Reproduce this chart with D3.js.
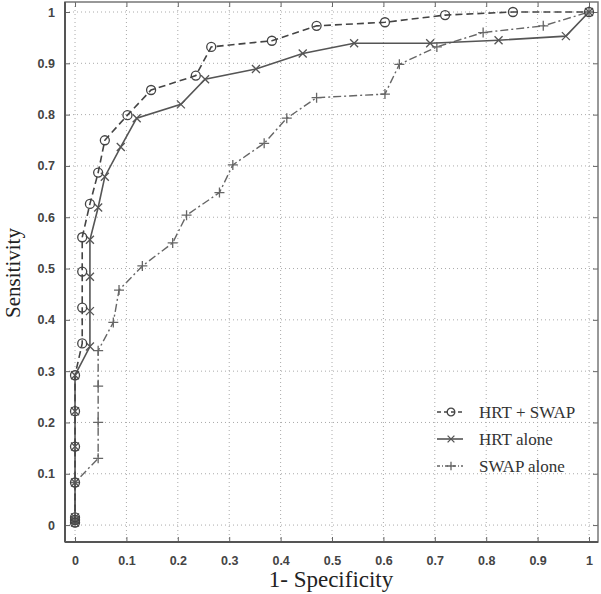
<!DOCTYPE html>
<html><head><meta charset="utf-8">
<script src="https://cdn.jsdelivr.net/npm/d3@7"></script>
<style>body{margin:0;background:#fff;} svg{display:block;}</style>
</head><body>
<svg id="chart" width="601" height="594"></svg>
<script>
const ticks = [0,0.1,0.2,0.3,0.4,0.5,0.6,0.7,0.8,0.9,1];
const tickLabels = ["0","0.1","0.2","0.3","0.4","0.5","0.6","0.7","0.8","0.9","1"];
const seriesNames = ["HRT + SWAP","HRT alone","SWAP alone"];
const hrtSwapX = [0,0,0,0,0,0,0,0.014,0.014,0.014,0.014,0.029,0.045,0.058,0.102,0.148,0.235,0.265,0.383,0.470,0.603,0.720,0.852,1];
const hrtSwapY = [0.005,0.010,0.015,0.083,0.153,0.222,0.292,0.354,0.424,0.494,0.561,0.626,0.687,0.750,0.799,0.848,0.876,0.932,0.944,0.973,0.980,0.994,1.0,1.0];
const hrtX = [0,0,0,0,0,0,0,0.029,0.029,0.029,0.029,0.045,0.058,0.089,0.120,0.206,0.253,0.352,0.443,0.543,0.691,0.824,0.955,1];
const hrtY = [0.005,0.010,0.015,0.083,0.153,0.222,0.292,0.348,0.417,0.484,0.556,0.619,0.679,0.737,0.793,0.820,0.869,0.889,0.919,0.939,0.939,0.945,0.953,1.0];
const swapX = [0,0,0.045,0.045,0.045,0.045,0.0745,0.0856,0.131,0.190,0.217,0.281,0.307,0.368,0.412,0.470,0.603,0.631,0.704,0.794,0.911,1];
const swapY = [0.005,0.083,0.130,0.200,0.271,0.340,0.395,0.458,0.505,0.550,0.604,0.648,0.702,0.744,0.793,0.833,0.840,0.898,0.932,0.960,0.973,1.0];

const svg = d3.select("#chart");
const L=65,R=598,T=2,B=542;
const x = d3.scaleLinear().domain([-0.0195,1.0175]).range([L,R]);
const y = d3.scaleLinear().domain([-0.033,1.0195]).range([B,T]);

// grid
const g = svg.append("g");
g.selectAll(".vg").data(ticks).enter().append("line")
  .attr("x1",d=>x(d)).attr("x2",d=>x(d)).attr("y1",T).attr("y2",B)
  .attr("stroke","#aaa").attr("stroke-width",1).attr("stroke-dasharray","1,3");
g.selectAll(".hg").data(ticks).enter().append("line")
  .attr("y1",d=>y(d)).attr("y2",d=>y(d)).attr("x1",L).attr("x2",R)
  .attr("stroke","#aaa").attr("stroke-width",1).attr("stroke-dasharray","1,3");

// axes
const fmt = (d,i)=>tickLabels[i];
const xAxis = d3.axisBottom(x).tickValues(ticks).tickFormat(fmt).tickSizeInner(-5).tickSizeOuter(0).tickPadding(14);
const yAxis = d3.axisLeft(y).tickValues(ticks).tickFormat(fmt).tickSizeInner(-5).tickSizeOuter(0).tickPadding(10);
const xTop = d3.axisTop(x).tickValues(ticks).tickFormat("").tickSizeInner(-5).tickSizeOuter(0);
const yRight = d3.axisRight(y).tickValues(ticks).tickFormat("").tickSizeInner(-5).tickSizeOuter(0);
const styleAxis = sel => {
  sel.select(".domain").remove();
  sel.selectAll("line").attr("stroke","#666");
  sel.selectAll("text").attr("font-family","Liberation Sans, Arial, sans-serif").attr("font-size",12.5)
    .attr("font-weight","bold").attr("fill","#444");
};
svg.append("g").attr("transform",`translate(0,${B})`).call(xAxis).call(styleAxis);
svg.append("g").attr("transform",`translate(${L},0)`).call(yAxis).call(styleAxis);
svg.append("g").attr("transform",`translate(0,${T})`).call(xTop).call(styleAxis);
svg.append("g").attr("transform",`translate(${R},0)`).call(yRight).call(styleAxis);
svg.append("rect").attr("x",L).attr("y",T).attr("width",R-L).attr("height",B-T)
  .attr("fill","none").attr("stroke","#777").attr("stroke-width",1.5);
svg.append("line").attr("x1",L).attr("x2",L).attr("y1",T).attr("y2",B).attr("stroke","#555").attr("stroke-width",2);
svg.append("line").attr("x1",L).attr("x2",R).attr("y1",B).attr("y2",B).attr("stroke","#555").attr("stroke-width",2);

const line = d3.line().x(d=>x(d[0])).y(d=>y(d[1]));
const zipS = (xs,ys)=>xs.map((v,i)=>[v,ys[i]]);
const series = [
  {name:seriesNames[0], pts:zipS(hrtSwapX,hrtSwapY), color:"#444", dash:"7,4", marker:"circle", w:1.6},
  {name:seriesNames[1], pts:zipS(hrtX,hrtY), color:"#555", dash:null, marker:"x", w:1.6},
  {name:seriesNames[2], pts:zipS(swapX,swapY), color:"#666", dash:"8,3,2,3", marker:"plus", w:1.4}
];
function drawMarker(sel, type, color, s){
  s = s || 1;
  if(type==="circle"){
    sel.append("circle").attr("r",4.5*s).attr("fill","none").attr("stroke",color).attr("stroke-width",1.3);
  } else if(type==="x"){
    const a=4*s;
    sel.append("path").attr("d",`M${-a},${-a}L${a},${a}M${-a},${a}L${a},${-a}`).attr("stroke",color).attr("stroke-width",1.3);
  } else {
    const a=5*s;
    sel.append("path").attr("d",`M${-a},0L${a},0M0,${-a}L0,${a}`).attr("stroke",color).attr("stroke-width",1.3);
  }
}
const plot = svg.append("g");
series.slice().reverse().forEach(s=>{
  plot.append("path").datum(s.pts).attr("d",line).attr("fill","none")
    .attr("stroke",s.color).attr("stroke-width",s.w).attr("stroke-dasharray",s.dash);
});
series.slice().reverse().forEach(s=>{
  const m = plot.selectAll(null).data(s.pts).enter().append("g")
    .attr("transform",d=>`translate(${x(d[0])},${y(d[1])})`);
  drawMarker(m, s.marker, s.color);
});

// legend
const leg = svg.append("g");
series.forEach((s,i)=>{
  const yy = 412 + i*27;
  leg.append("line").attr("x1",437).attr("x2",463).attr("y1",yy).attr("y2",yy)
    .attr("stroke",s.color).attr("stroke-width",s.w).attr("stroke-dasharray",s.dash?(i===0?"4,3":"3,2,1,2"):null);
  const mg = leg.append("g").attr("transform",`translate(451,${yy})`);
  drawMarker(mg, s.marker, s.color, 0.85);
  leg.append("text").attr("x",479).attr("y",yy+6).text(s.name)
    .attr("font-family","Liberation Serif, Times New Roman, serif").attr("font-size",17).attr("fill","#333");
});

// axis titles
svg.append("text").attr("x",331).attr("y",587).attr("text-anchor","middle")
  .attr("font-family","Liberation Serif, Times New Roman, serif").attr("font-size",23).attr("fill","#222")
  .text("1- Specificity");
svg.append("text").attr("transform","translate(20,273) rotate(-90)").attr("text-anchor","middle")
  .attr("font-family","Liberation Serif, Times New Roman, serif").attr("font-size",21).attr("fill","#222")
  .text("Sensitivity");
</script>
</body></html>
